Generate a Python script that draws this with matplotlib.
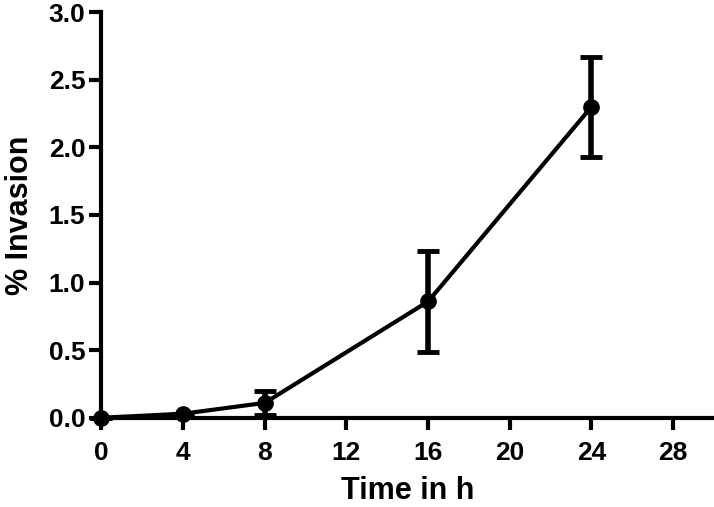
import matplotlib.pyplot as plt
import numpy as np

plt.rcParams['font.family'] = ['Liberation Sans', 'DejaVu Sans']
plt.rcParams['font.weight'] = 'bold'

time_h = [0, 4, 8, 16, 24]
invasion = [0.0, 0.03, 0.11, 0.86, 2.30]
invasion_err = [0.0, 0.0, 0.09, 0.375, 0.37]

fig = plt.figure(figsize=(7.14, 5.07), dpi=100)
ax = fig.add_axes([0.142, 0.176, 0.858, 0.80])

ax.errorbar(time_h, invasion, yerr=invasion_err, color="black", lw=3,
            marker="o", markersize=11, capsize=8, capthick=3.5, elinewidth=4,
            clip_on=False, zorder=3)

ax.set_xlim(0, 30)
ax.set_ylim(0, 3.0)
ax.set_xticks(np.arange(0, 29, 4))
ax.set_yticks(np.linspace(0, 3.0, 7))
ax.set_yticklabels(["%.1f" % v for v in np.linspace(0, 3.0, 7)])

for s in ["top", "right"]:
    ax.spines[s].set_visible(False)
for s in ["left", "bottom"]:
    ax.spines[s].set_linewidth(3)
ax.tick_params(direction="out", length=8.5, width=3, labelsize=19)
ax.tick_params(axis="x", pad=8)
ax.tick_params(axis="y", pad=3)

ax.set_xlabel("Time in h", fontsize=22, fontweight="bold", labelpad=8)
ax.set_ylabel("% Invasion", fontsize=22, fontweight="bold", labelpad=10)

fig.savefig("out.png", dpi=100)
